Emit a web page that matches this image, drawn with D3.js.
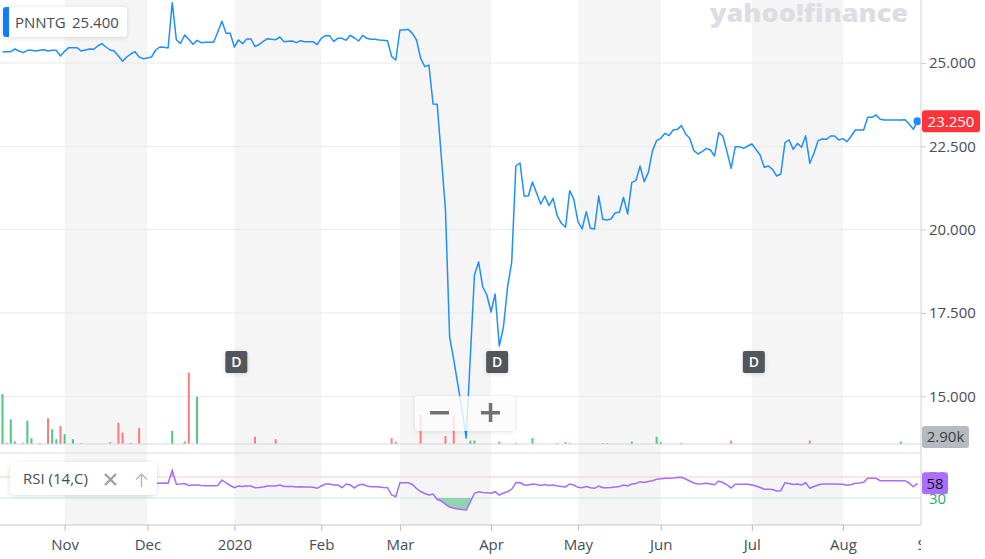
<!DOCTYPE html>
<html>
<head>
<meta charset="utf-8">
<script src="https://cdn.jsdelivr.net/npm/d3@7"></script>
<style>
  body { margin: 0; background: #fff; }
  svg { display: block; font-family: "Open Sans", sans-serif; }
</style>
</head>
<body>
<script>
// month labels and the trading-day index of each month's first session
const monthLabels = ['Nov', 'Dec', '2020', 'Feb', 'Mar', 'Apr', 'May', 'Jun', 'Jul', 'Aug', 'Sep'];
const monthStart = [15, 35, 56, 77, 96, 118, 139, 159, 181, 203, 224];

// right axis price ticks
const priceTicks = [15, 17.5, 20, 22.5, 25];

// daily close, one per trading day (Oct 2019 - Aug 2020)
const close = [
  25.34, 25.34, 25.34, 25.42, 25.36, 25.31, 25.38, 25.38, 25.36, 25.38,
  25.40, 25.36, 25.38, 25.38, 25.21, 25.35, 25.46, 25.46, 25.46, 25.36,
  25.39, 25.42, 25.41, 25.51, 25.58, 25.48, 25.39, 25.36, 25.21, 25.05,
  25.18, 25.27, 25.34, 25.18, 25.13, 25.15, 25.18, 25.39, 25.48, 25.47,
  25.45, 26.81, 25.69, 25.59, 25.84, 25.71, 25.56, 25.68, 25.61, 25.62,
  25.62, 25.62, 25.93, 26.25, 25.89, 25.89, 25.48, 25.69, 25.58, 25.72,
  25.72, 25.49, 25.56, 25.65, 25.73, 25.71, 25.70, 25.78, 25.64, 25.65,
  25.66, 25.61, 25.67, 25.64, 25.64, 25.64, 25.55, 25.74, 25.82, 25.82,
  25.65, 25.74, 25.74, 25.68, 25.83, 25.75, 25.66, 25.83, 25.74, 25.71,
  25.71, 25.69, 25.68, 25.67, 25.19, 25.09, 25.99, 25.99, 26.01, 25.89,
  25.69, 25.14, 24.89, 24.94, 23.77, 23.76, 22.18, 20.59, 16.78, 16.09,
  15.34, 14.59, 13.75, 16.18, 18.64, 19.03, 18.28, 18.04, 17.53, 18.07,
  16.51, 17.08, 18.28, 19.03, 21.91, 22.00, 21.01, 21.01, 21.43, 21.10,
  20.77, 21.01, 20.72, 20.94, 20.41, 20.19, 20.07, 21.17, 20.91, 20.24,
  20.02, 20.54, 20.04, 20.02, 21.01, 20.31, 20.29, 20.32, 20.51, 20.52,
  20.97, 20.47, 21.42, 21.47, 21.91, 21.44, 21.72, 22.37, 22.67, 22.74,
  22.89, 22.82, 22.99, 23.01, 23.12, 22.87, 22.74, 22.37, 22.27, 22.34,
  22.44, 22.39, 22.21, 22.91, 22.81, 22.34, 21.84, 22.49, 22.49, 22.44,
  22.51, 22.57, 22.41, 22.24, 21.87, 21.91, 21.81, 21.61, 21.67, 22.61,
  22.69, 22.41, 22.59, 22.47, 22.82, 21.99, 22.29, 22.67, 22.72, 22.71,
  22.81, 22.81, 22.69, 22.73, 22.64, 22.81, 22.99, 22.99, 22.99, 23.37,
  23.37, 23.44, 23.31, 23.29, 23.29, 23.29, 23.29, 23.29, 23.30, 23.17,
  23.01, 23.25
];

// daily volume in thousands
const volume = [
  20.7, 0.5, 10.2, 1.0, 0, 0.5, 9.7, 2.4, 0, 0.4, 0, 10.7, 6.1, 2.0, 7.5, 4.1, 0, 2.0, 0, 0.3,
  0, 0, 0, 0, 0, 0, 0.8, 0, 8.8, 4.7, 0, 0.4, 0, 6.6, 0, 0, 0, 0, 0, 0,
  0, 5.5, 0, 0, 1.0, 29.6, 0, 19.6, 0, 0, 0, 0, 0, 0, 0, 0, 0, 0, 0, 0,
  0, 3.0, 0, 0, 0, 0, 2.0, 0, 0, 0, 0, 0, 0, 0, 0, 0, 0, 0, 0, 0,
  0, 0, 0, 0, 0, 0, 0, 0, 0, 0, 0, 0, 0, 0, 2.4, 1.0, 0, 0, 0, 0,
  0, 12.0, 0, 0, 0, 0, 0, 3.3, 0, 11.6, 0, 0, 0, 1.4, 1.4, 0, 0, 0, 0, 0,
  1.0, 0, 0, 0, 0.4, 0, 0, 0, 2.4, 0, 0, 0, 0, 0, 0.4, 0, 0.8, 0.4, 0, 0,
  0, 0, 0, 0, 0, 0.4, 0.4, 0, 0, 0, 0, 0, 1.0, 0, 0, 0, 0, 0, 3.0, 0.8,
  0, 0, 0, 0, 0.5, 0, 0, 0, 0, 0, 0, 0, 0, 0, 0, 0, 1.4, 0, 0, 0,
  0, 0, 0, 0, 0, 0, 0, 0, 0, 0, 0, 0, 0, 0, 0, 1.4, 0, 0, 0, 0,
  0, 0, 0, 0, 0, 0, 0, 0, 0, 0, 0, 0, 0, 0, 0, 0, 0, 1.0, 0, 0,
  0, 0
];

// RSI (14, close), starting at trading day rsiStart
const rsiStart = 37;
const rsi = [
  58.0, 58.0, 58.6, 58.0, 82.4, 56.1, 56.7, 57.6, 53.8, 54.8,
  54.8, 53.8, 53.4, 53.4, 53.4, 53.8, 64.3, 58.6, 53.8, 49.6,
  52.9, 51.9, 52.9, 52.9, 49.6, 50.0, 51.0, 52.9, 52.9, 52.9,
  54.8, 51.9, 51.9, 51.9, 51.0, 51.5, 51.0, 51.0, 50.4, 48.5,
  52.9, 56.7, 56.7, 54.8, 54.8, 49.6, 56.7, 54.8, 49.1, 54.8,
  56.1, 52.9, 51.5, 51.5, 51.0, 50.0, 49.6, 35.7, 32.5, 59.1,
  59.1, 59.1, 55.7, 48.1, 42.4, 38.6, 35.7, 37.6, 27.1, 24.3,
  17.6, 12.9, 10.4, 9.0, 8.1, 7.1, 22.4, 39.0, 42.0, 40.5,
  40.1, 39.0, 42.0, 35.7, 39.5, 42.0, 46.6, 59.1, 59.5, 54.8,
  54.8, 56.7, 55.7, 53.8, 55.7, 53.8, 54.8, 52.9, 51.9, 51.0,
  56.7, 54.8, 50.4, 49.6, 51.9, 49.6, 48.5, 52.9, 49.6, 49.6,
  50.0, 51.0, 51.9, 54.8, 52.9, 56.7, 57.6, 61.1, 59.5, 61.4,
  63.0, 65.6, 66.8, 67.5, 67.5, 68.1, 69.1, 69.4, 66.2, 62.4,
  58.6, 56.7, 57.2, 58.0, 56.7, 55.3, 62.4, 59.5, 54.8, 49.1,
  56.1, 56.1, 56.1, 56.1, 54.8, 52.9, 50.0, 46.6, 46.6, 46.2,
  43.3, 43.9, 59.1, 57.6, 55.7, 56.7, 54.8, 59.1, 48.5, 51.9,
  54.8, 56.7, 56.7, 56.7, 56.7, 56.3, 56.3, 54.2, 55.7, 58.0,
  58.6, 59.9, 67.5, 67.5, 67.5, 63.0, 63.0, 63.0, 63.0, 63.0,
  63.0, 63.0, 58.6, 51.5, 58.0
];
const rsiBands = [30, 70];

// dividend markers (trading-day index)
const dividendIdx = [56, 119, 181];

// header and last values
const symbol = 'PNNTG';
const headerValue = 25.4;
const lastVolume = 2.9;
const lastRsi = 58;

// layout
const W = 985, H = 559;
const plotR = 921, volBase = 444, rsiTop = 453, rsiBottom = 525;
const textColor = '#464e56';

const svg = d3.select('body').append('svg')
  .attr('width', W)
  .attr('height', H);

const defs = svg.append('defs');
const shadow = defs.append('filter').attr('id', 'shadow')
  .attr('x', '-20%').attr('y', '-40%').attr('width', '140%').attr('height', '180%');
shadow.append('feDropShadow')
  .attr('dx', 0).attr('dy', 1).attr('stdDeviation', 2)
  .attr('flood-color', '#000').attr('flood-opacity', 0.14);

defs.append('clipPath').attr('id', 'plotClip')
  .append('rect').attr('x', 0).attr('y', 0).attr('width', plotR).attr('height', volBase);
defs.append('clipPath').attr('id', 'xClipLocal')
  .append('rect').attr('x', 0).attr('y', 0).attr('width', plotR).attr('height', H - rsiBottom);

// scales
const x = d3.scaleLinear().domain([0, close.length - 1]).range([2.5, 2.5 + (close.length - 1) * 4.14]);
const y = d3.scaleLinear().domain([15, 25]).range([396.3, 63]);
const yVol = d3.scaleLinear().domain([0, 30]).range([volBase, 371.7]);
const yRsi = d3.scaleLinear().domain([30, 70]).range([498, 477]);

// alternating month shading
const bands = svg.append('g');
for (let k = 0; k + 1 < monthStart.length; k += 2) {
  bands.append('rect')
    .attr('x', x(monthStart[k]))
    .attr('y', 0)
    .attr('width', x(monthStart[k + 1]) - x(monthStart[k]))
    .attr('height', rsiBottom)
    .attr('fill', '#f5f5f5');
}

// horizontal grid lines
svg.append('g').selectAll('line')
  .data(priceTicks)
  .enter().append('line')
  .attr('x1', 0).attr('x2', plotR)
  .attr('y1', d => y(d)).attr('y2', d => y(d))
  .attr('stroke', '#e9e9ea');

// volume bars, green on up days, red on down days
const volData = volume.map((v, i) => ({ i: i, v: v, up: i === 0 || close[i] >= close[i - 1] }))
  .filter(d => d.v > 0);
svg.append('g').selectAll('rect')
  .data(volData)
  .enter().append('rect')
  .attr('x', d => x(d.i) - 1)
  .attr('width', 2)
  .attr('y', d => yVol(d.v))
  .attr('height', d => volBase - yVol(d.v))
  .attr('fill', d => d.up ? '#4fc682' : '#ff7b7b');

// panel borders
svg.append('line').attr('x1', 0).attr('x2', plotR).attr('y1', volBase).attr('y2', volBase)
  .attr('stroke', '#d3d7de');
svg.append('line').attr('x1', 0).attr('x2', plotR).attr('y1', rsiTop).attr('y2', rsiTop)
  .attr('stroke', '#d9dce2');

// price line
const priceLine = d3.line().x((d, i) => x(i)).y(d => y(d));
const pricePlot = svg.append('g').attr('clip-path', 'url(#plotClip)');
pricePlot.append('path')
  .datum(close)
  .attr('d', priceLine)
  .attr('fill', 'none')
  .attr('stroke', '#1f8ffb')
  .attr('stroke-width', 1.5)
  .attr('stroke-linejoin', 'round');
pricePlot.append('circle')
  .attr('cx', x(close.length - 1))
  .attr('cy', y(close[close.length - 1]))
  .attr('r', 4)
  .attr('fill', '#1a8cff');

// RSI panel
const rsiData = rsi.map((v, k) => ({ i: rsiStart + k, v: v }));
svg.append('line').attr('x1', 0).attr('x2', plotR).attr('y1', yRsi(70)).attr('y2', yRsi(70))
  .attr('stroke', '#f8cccc').attr('stroke-width', 1.2);
svg.append('line').attr('x1', 0).attr('x2', plotR).attr('y1', yRsi(30)).attr('y2', yRsi(30))
  .attr('stroke', '#cce9da').attr('stroke-width', 1.2);

defs.append('clipPath').attr('id', 'rsiLow')
  .append('rect').attr('x', 0).attr('y', yRsi(30)).attr('width', plotR).attr('height', rsiBottom - yRsi(30));
defs.append('clipPath').attr('id', 'rsiHigh')
  .append('rect').attr('x', 0).attr('y', rsiTop).attr('width', plotR).attr('height', yRsi(70) - rsiTop);

svg.append('path')
  .datum(rsiData)
  .attr('clip-path', 'url(#rsiLow)')
  .attr('d', d3.area().x(d => x(d.i)).y0(yRsi(30)).y1(d => yRsi(d.v)))
  .attr('fill', '#93d4b0');
svg.append('path')
  .datum(rsiData)
  .attr('clip-path', 'url(#rsiHigh)')
  .attr('d', d3.area().x(d => x(d.i)).y0(yRsi(70)).y1(d => yRsi(d.v)))
  .attr('fill', '#f7b3b3');
svg.append('path')
  .datum(rsiData)
  .attr('d', d3.line().x(d => x(d.i)).y(d => yRsi(d.v)))
  .attr('fill', 'none')
  .attr('stroke', '#a46cf8')
  .attr('stroke-width', 1.5);

svg.append('line').attr('x1', 0).attr('x2', plotR).attr('y1', rsiBottom).attr('y2', rsiBottom)
  .attr('stroke', '#c3c7ce');

// right axis
svg.append('line').attr('x1', plotR).attr('x2', plotR).attr('y1', 0).attr('y2', rsiBottom)
  .attr('stroke', '#cfd2d7');
svg.append('g')
  .attr('transform', 'translate(' + plotR + ',0)')
  .call(d3.axisRight(y).tickValues(priceTicks).tickFormat(d3.format('.3f')).tickSize(5).tickPadding(3))
  .call(g => g.select('.domain').remove())
  .call(g => g.selectAll('line').attr('stroke', '#c9ccd1'))
  .call(g => g.selectAll('text')
    .attr('fill', textColor)
    .attr('font-size', 15)
    .attr('font-family', '"Open Sans", sans-serif'));

// bottom axis, labels clipped at the right axis
svg.append('g')
  .attr('transform', 'translate(0,' + rsiBottom + ')')
  .attr('clip-path', 'url(#xClipLocal)')
  .call(d3.axisBottom(x).tickValues(monthStart).tickFormat((d, i) => monthLabels[i]).tickSize(6).tickPadding(8))
  .call(g => g.select('.domain').remove())
  .call(g => g.selectAll('line').attr('stroke', '#b9bdc4'))
  .call(g => g.selectAll('text')
    .attr('fill', textColor)
    .attr('font-size', 15)
    .attr('font-family', '"Open Sans", sans-serif'));

// dividend markers
const divs = svg.append('g').selectAll('g')
  .data(dividendIdx)
  .enter().append('g')
  .attr('transform', d => 'translate(' + (x(d) + 2) + ',362)');
divs.append('rect')
  .attr('x', -11).attr('y', -11).attr('width', 22).attr('height', 22).attr('rx', 2)
  .attr('fill', '#51575d')
  .attr('filter', 'url(#shadow)');
divs.append('text')
  .attr('text-anchor', 'middle').attr('dy', '0.36em')
  .attr('fill', '#fff').attr('font-size', 14).attr('font-weight', 600)
  .text('D');

// zoom control
const zoomBox = svg.append('g');
zoomBox.append('rect')
  .attr('x', 415).attr('y', 396).attr('width', 100).attr('height', 35).attr('rx', 3)
  .attr('fill', '#fff').attr('fill-opacity', 0.8)
  .attr('filter', 'url(#shadow)');
zoomBox.append('rect').attr('x', 430).attr('y', 411).attr('width', 19).attr('height', 3.5).attr('fill', '#6e7378');
zoomBox.append('rect').attr('x', 481).attr('y', 411).attr('width', 19).attr('height', 3.5).attr('fill', '#6e7378');
zoomBox.append('rect').attr('x', 488.8).attr('y', 403).attr('width', 3.5).attr('height', 19).attr('fill', '#6e7378');

// header label
const header = svg.append('g');
header.append('rect')
  .attr('x', 3).attr('y', 7).attr('width', 124).attr('height', 30).attr('rx', 4)
  .attr('fill', '#fff').attr('filter', 'url(#shadow)');
header.append('rect').attr('x', 3).attr('y', 7).attr('width', 6).attr('height', 30).attr('rx', 3).attr('fill', '#0f7ef6');
header.append('rect').attr('x', 6).attr('y', 7).attr('width', 3).attr('height', 30).attr('fill', '#0f7ef6');
header.append('text')
  .attr('x', 15).attr('y', 28)
  .attr('fill', textColor).attr('font-size', 15)
  .text(symbol);
header.append('text')
  .attr('x', 72).attr('y', 28)
  .attr('fill', textColor).attr('font-size', 15)
  .text(d3.format('.3f')(headerValue));

// RSI label
const rsiLabel = svg.append('g');
rsiLabel.append('rect')
  .attr('x', 10).attr('y', 462).attr('width', 147).attr('height', 33).attr('rx', 5)
  .attr('fill', '#fff').attr('filter', 'url(#shadow)');
rsiLabel.append('text')
  .attr('x', 23).attr('y', 484)
  .attr('fill', textColor).attr('font-size', 15)
  .text('RSI (14,C)');
rsiLabel.append('path')
  .attr('d', 'M105,474L116,485M116,474L105,485')
  .attr('stroke', '#9ea2a7').attr('stroke-width', 2.4);
rsiLabel.append('path')
  .attr('d', 'M141.5,474V487M136,479.5L141.5,474L147,479.5')
  .attr('fill', 'none').attr('stroke', '#b3b7bb').attr('stroke-width', 1.4);

// RSI band labels on the right
svg.append('text').attr('x', 929).attr('y', yRsi(70)).attr('dy', '0.35em')
  .attr('fill', '#ff4b4b').attr('font-size', 15).text(rsiBands[1]);
svg.append('text').attr('x', 929).attr('y', yRsi(30) + 1).attr('dy', '0.35em')
  .attr('fill', '#1fae63').attr('font-size', 15).text(rsiBands[0]);

// value tags on the right axis
function tag(cy, w, fill, color, label) {
  const g = svg.append('g');
  g.append('rect')
    .attr('x', plotR + 1).attr('y', cy - 11).attr('width', w).attr('height', 22).attr('rx', 3)
    .attr('fill', fill);
  g.append('text')
    .attr('x', plotR + 1 + w / 2).attr('y', cy).attr('dy', '0.35em')
    .attr('text-anchor', 'middle')
    .attr('fill', color).attr('font-size', 15)
    .text(label);
}
tag(y(close[close.length - 1]), 58, '#ff333a', '#fff', d3.format('.3f')(close[close.length - 1]));
tag(yVol(lastVolume), 47, '#b6bac0', '#3a3f45', d3.format('.2f')(lastVolume) + 'k');
tag(yRsi(lastRsi), 26, '#a970ff', '#111', lastRsi);

// watermark
svg.append('text')
  .attr('x', 710).attr('y', 22)
  .attr('textLength', 198).attr('lengthAdjust', 'spacingAndGlyphs')
  .attr('fill', '#dcdee3').attr('font-size', 24).attr('font-weight', 800)
  .text('yahoo!finance');
</script>
</body>
</html>
